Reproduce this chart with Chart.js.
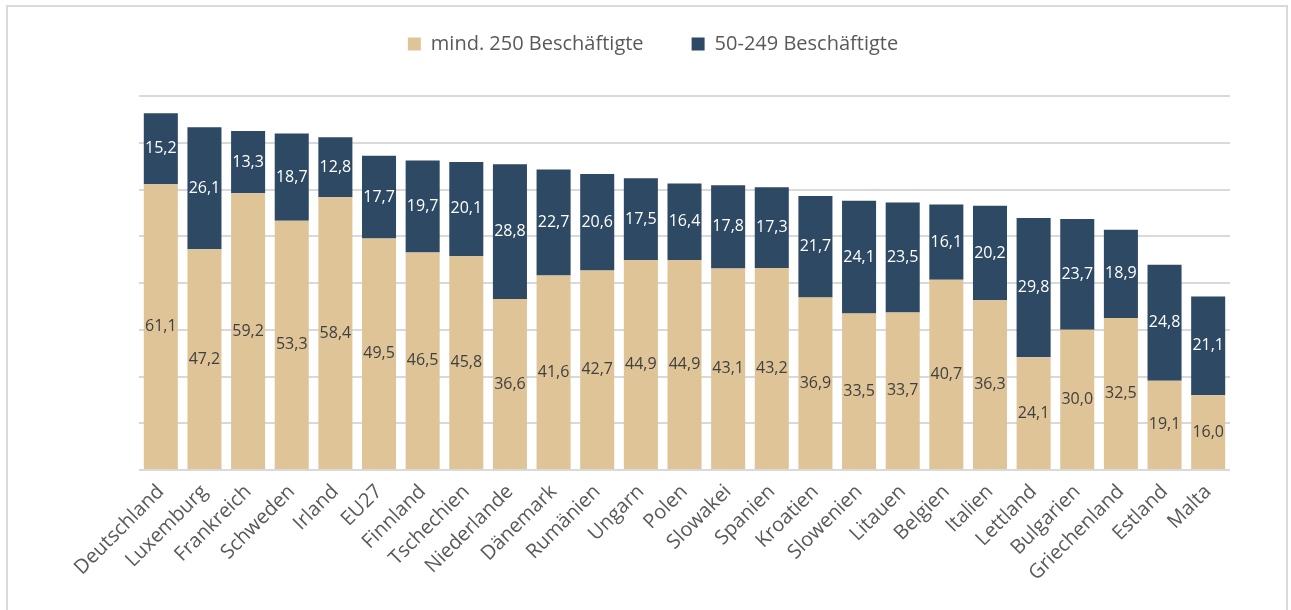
<!DOCTYPE html>
<html>
<head>
<meta charset="utf-8">
<script src="https://cdn.jsdelivr.net/npm/chart.js@4.4.0/dist/chart.umd.min.js"></script>
<style>
html,body{margin:0;padding:0;background:#fff;}
#wrap{position:absolute;left:0;top:0;width:1291px;height:610px;}
#frame{position:absolute;left:6px;top:5px;width:1282px;height:620px;border:2px solid #d9d9d9;box-sizing:border-box;pointer-events:none;}
</style>
</head>
<body>
<div id="wrap"><canvas id="c" width="1291" height="610"></canvas></div>
<div id="frame"></div>
<script>
const categories = ["Deutschland","Luxemburg","Frankreich","Schweden","Irland","EU27","Finnland","Tschechien","Niederlande","Dänemark","Rumänien","Ungarn","Polen","Slowakei","Spanien","Kroatien","Slowenien","Litauen","Belgien","Italien","Lettland","Bulgarien","Griechenland","Estland","Malta"];
const large = [61.1,47.2,59.2,53.3,58.4,49.5,46.5,45.8,36.6,41.6,42.7,44.9,44.9,43.1,43.2,36.9,33.5,33.7,40.7,36.3,24.1,30.0,32.5,19.1,16.0];
const medium = [15.2,26.1,13.3,18.7,12.8,17.7,19.7,20.1,28.8,22.7,20.6,17.5,16.4,17.8,17.3,21.7,24.1,23.5,16.1,20.2,29.8,23.7,18.9,24.8,21.1];
const seriesNames = ["mind. 250 Beschäftigte","50-249 Beschäftigte"];

const labelPlugin = {
  id:'valueLabels',
  afterDatasetsDraw(chart){
    const ctx = chart.ctx;
    ctx.save();
    ctx.font = '16px "Open Sans"';
    ctx.textAlign = 'center';
    ctx.textBaseline = 'middle';
    chart.data.datasets.forEach((ds,i)=>{
      const meta = chart.getDatasetMeta(i);
      ctx.fillStyle = i===0 ? '#404040' : '#ffffff';
      meta.data.forEach((el,j)=>{
        const v = ds.data[j];
        const y = (el.y + el.base)/2;
        ctx.fillText(v.toFixed(1).replace('.',','), el.x, y);
      });
    });
    ctx.restore();
  }
};
const legendHeight = {
  id:'legendHeight',
  beforeInit(chart){
    const lg = chart.legend;
    if(!lg) return;
    const orig = lg.fit;
    lg.fit = function(){ orig.call(this); this.height = 110; };
  }
};

new Chart(document.getElementById('c'),{
  type:'bar',
  data:{
    labels:categories,
    datasets:[
      {label:seriesNames[0],data:large,backgroundColor:'#dfc497',barPercentage:0.78,categoryPercentage:1},
      {label:seriesNames[1],data:medium,backgroundColor:'#2d4963',barPercentage:0.78,categoryPercentage:1}
    ]
  },
  options:{
    responsive:false,
    animation:false,
    layout:{padding:{left:76,right:61,top:-14,bottom:0}},
    plugins:{
      legend:{
        position:'top',
        labels:{font:{family:'"Open Sans"',size:20},color:'#595959',boxWidth:13,boxHeight:13,padding:48},
      },
      tooltip:{enabled:false}
    },
    scales:{
      x:{
        stacked:true,
        grid:{display:false},
        border:{display:false},
        ticks:{font:{family:'"Open Sans"',size:20},color:'#595959',minRotation:45,maxRotation:45,padding:2},
        afterFit(s){ s.height = 140; }
      },
      y:{
        stacked:true,
        min:0,max:80,
        ticks:{display:false,stepSize:10},
        grid:{color:'#d9d9d9',lineWidth:2,drawTicks:false},
        border:{display:false},
        afterFit(s){ s.width = 63; }
      }
    }
  },
  plugins:[legendHeight,labelPlugin]
});
</script>
</body>
</html>
